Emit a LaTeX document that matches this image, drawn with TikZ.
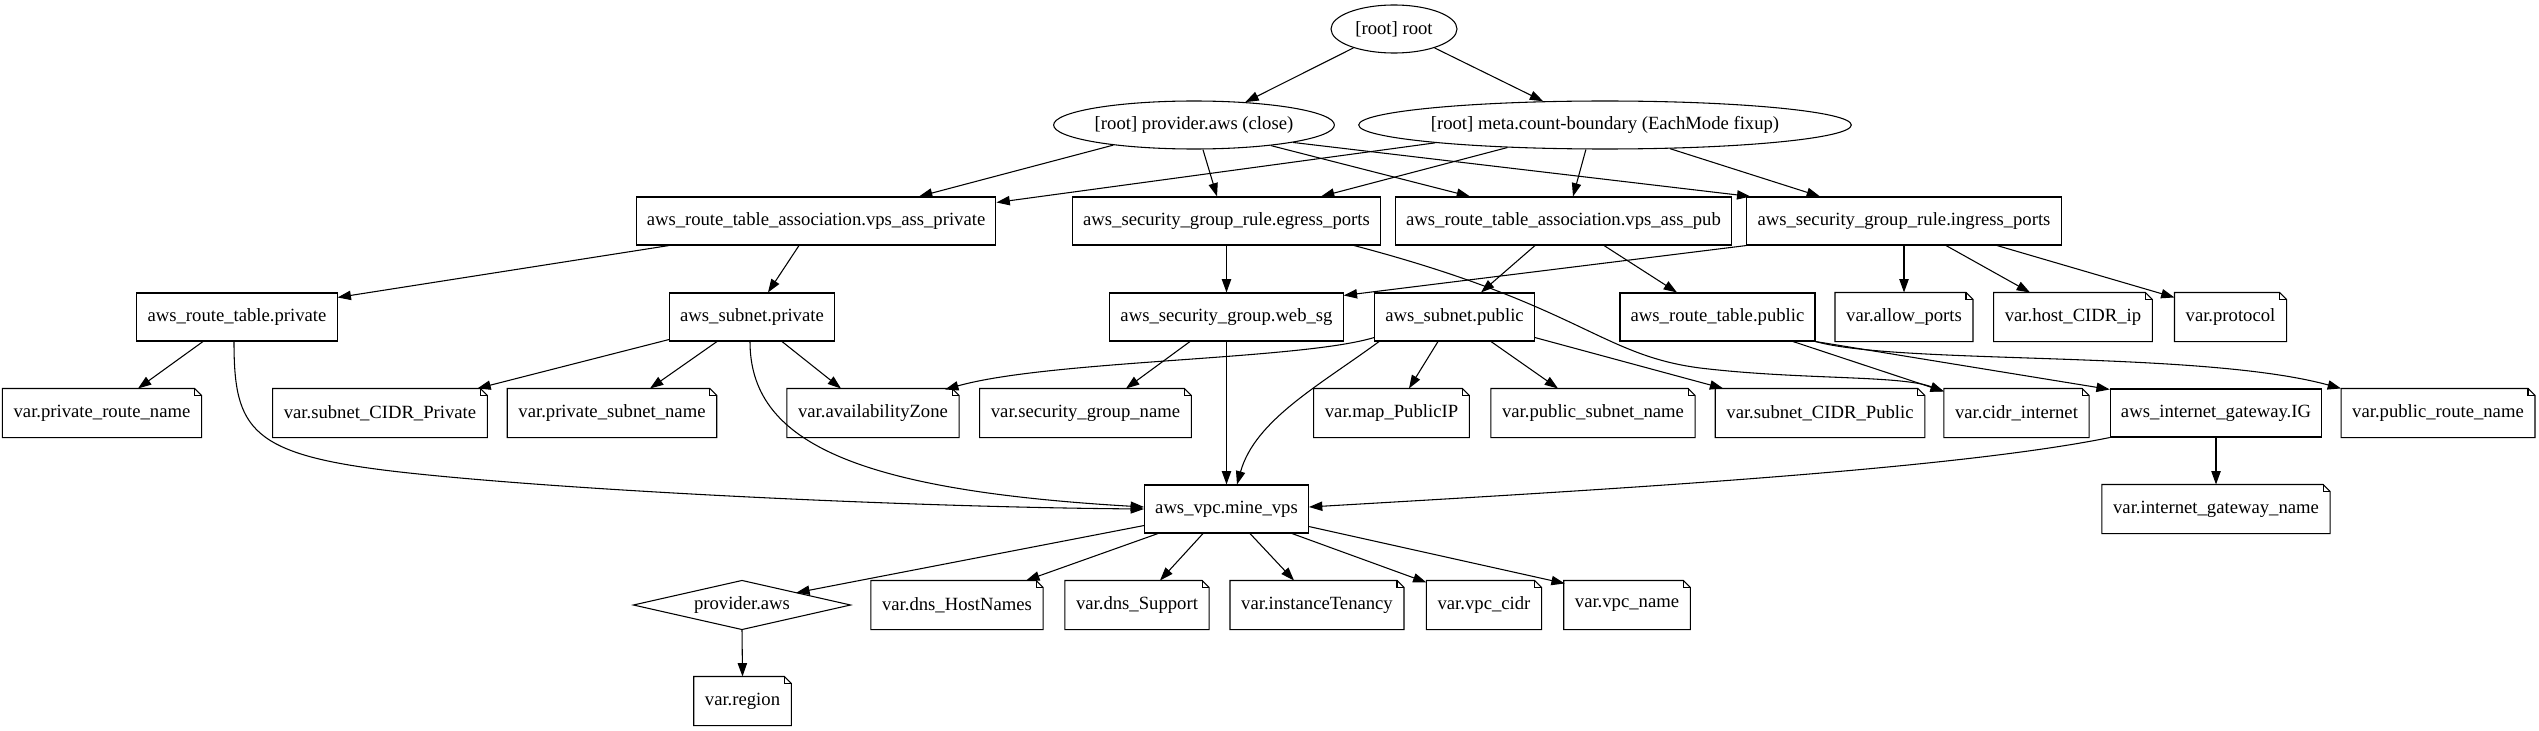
\documentclass[tikz,border=0pt]{standalone}
\usepackage{fontspec}
\setmainfont{Liberation Serif}
\usetikzlibrary{shapes.geometric,arrows.meta,calc}

\begin{document}
\begin{tikzpicture}[x=0.75pt,y=-0.75pt,
  >={Triangle[length=10pt,width=7pt]},
  every node/.style={font=\fontsize{14pt}{16pt}\selectfont, line width=0.8pt},
  every path/.style={line width=0.8pt},
  rootnode/.style={ellipse, draw, inner sep=0pt, minimum height=36pt},
  resbox/.style={rectangle, draw, inner xsep=8pt, minimum height=36pt, minimum width=54pt},
  varnote/.style={rectangle, inner xsep=8pt, minimum height=36pt, minimum width=54pt},
  provnode/.style={rectangle, inner sep=0pt, minimum width=162pt, minimum height=36pt}]
\useasboundingbox (0,0) rectangle (2539,731);

% root level
\node[rootnode, minimum width=94.5pt] (root) at (1394,29) {[root] root};
\node[rootnode, minimum width=210pt] (provclose) at (1194,125) {[root] provider.aws (close)};
\node[rootnode, minimum width=367.5pt] (meta) at (1605,125) {[root] meta.count-boundary (EachMode fixup)};

% resources
\node[resbox] (rtaprivate) at (816,221) {aws\_route\_table\_association.vps\_ass\_private};
\node[resbox] (egress) at (1226.5,221) {aws\_security\_group\_rule.egress\_ports};
\node[resbox] (rtapub) at (1563.5,221) {aws\_route\_table\_association.vps\_ass\_pub};
\node[resbox] (ingress) at (1904,221) {aws\_security\_group\_rule.ingress\_ports};

\node[resbox] (rtprivate) at (237,317) {aws\_route\_table.private};
\node[resbox] (subprivate) at (752,317) {aws\_subnet.private};
\node[resbox] (websg) at (1226.5,317) {aws\_security\_group.web\_sg};
\node[resbox] (subpublic) at (1454.5,317) {aws\_subnet.public};
\node[resbox] (rtpublic) at (1717.5,317) {aws\_route\_table.public};
\node[varnote] (allowports) at (1904,317) {var.allow\_ports};
\node[varnote] (hostcidr) at (2073,317) {var.host\_CIDR\_ip};
\node[varnote] (protocol) at (2230.5,317) {var.protocol};

\node[varnote] (privroutename) at (102,413) {var.private\_route\_name};
\node[varnote] (cidrprivate) at (380,413) {var.subnet\_CIDR\_Private};
\node[varnote] (privsubname) at (612,413) {var.private\_subnet\_name};
\node[varnote] (azone) at (873,413) {var.availabilityZone};
\node[varnote] (sgname) at (1085.5,413) {var.security\_group\_name};
\node[varnote] (mappublicip) at (1391.5,413) {var.map\_PublicIP};
\node[varnote] (pubsubname) at (1593,413) {var.public\_subnet\_name};
\node[varnote] (cidrpublic) at (1820,413) {var.subnet\_CIDR\_Public};
\node[varnote] (cidrinternet) at (2016.5,413) {var.cidr\_internet};
\node[resbox] (igw) at (2216,413) {aws\_internet\_gateway.IG};
\node[varnote] (pubroutename) at (2438,413) {var.public\_route\_name};

\node[resbox] (minevps) at (1226.5,509) {aws\_vpc.mine\_vps};
\node[varnote] (igwname) at (2216,509) {var.internet\_gateway\_name};

\node[provnode] (provaws) at (742,605) {provider.aws};
\node[varnote] (dnshost) at (957,605) {var.dns\_HostNames};
\node[varnote] (dnssupport) at (1137,605) {var.dns\_Support};
\node[varnote] (tenancy) at (1317,605) {var.instanceTenancy};
\node[varnote] (vpccidr) at (1484,605) {var.vpc\_cidr};
\node[varnote] (vpcname) at (1627,605) {var.vpc\_name};
\node[varnote] (region) at (742.5,701) {var.region};

% provider diamond
\draw (provaws.north) -- (provaws.east) -- (provaws.south) -- (provaws.west) -- cycle;

% note outlines with folded corner
\foreach \n in {allowports,hostcidr,protocol,privroutename,cidrprivate,privsubname,
                azone,sgname,mappublicip,pubsubname,cidrpublic,cidrinternet,
                pubroutename,igwname,dnshost,dnssupport,tenancy,vpccidr,vpcname,region}
	{\draw (\n.south west) -- (\n.south east) -- ($(\n.north east)+(0,7)$)
	   -- ($(\n.north east)+(-7,0)$) -- (\n.north west) -- cycle;
	 \draw ($(\n.north east)+(-7,0)$) -- ($(\n.north east)+(-7,7)$) -- ($(\n.north east)+(0,7)$);};

% edges from the root level
\draw[->] (root.205) -- (provclose.24);
\draw[->] (root.335) -- (meta.159);
\draw[->] (provclose.194) -- ($(rtaprivate.north)+(103,0)$);
\draw[->] (provclose.290) -- ($(egress.north)+(-9.5,0)$);
\draw[->] (provclose.345.6) -- ($(rtapub.north)+(-93.5,0)$);
\draw[->] (provclose.350.7) -- ($(ingress.north west)+(4,0)$);
\draw[->] (meta.186.7) -- ($(rtaprivate.north east)+(0,6)$);
\draw[->] (meta.193.2) -- ($(egress.north)+(94.5,0)$);
\draw[->] (meta.232.8) -- ($(rtapub.north)+(9.5,0)$);
\draw[->] (meta.340) -- ($(ingress.north)+(-84,0)$);

% second row
\draw[->] ($(rtaprivate.south)+(-147,0)$) -- ($(rtprivate.north east)+(0,5)$);
\draw[->] ($(rtaprivate.south)+(-17,0)$) -- ($(subprivate.north)+(16,0)$);
\draw[->] (egress.south) -- (websg.north);
\draw[->] ($(egress.south)+(127.5,0)$) .. controls (1580,305) and (1600,355) .. (1700,368)
   .. controls (1800,380) and (1900,375) .. ($(cidrinternet.north west)+(0,3)$);
\draw[->] ($(rtapub.south)+(-28.5,0)$) -- ($(subpublic.north)+(26.5,0)$);
\draw[->] ($(rtapub.south)+(40.5,0)$) -- ($(rtpublic.north)+(-40.5,0)$);
\draw[->] (ingress.south west) -- ($(websg.north east)+(0,3)$);
\draw[->] (ingress.south) -- (allowports.north);
\draw[->] ($(ingress.south)+(42,0)$) -- ($(hostcidr.north)+(-43,0)$);
\draw[->] ($(ingress.south)+(93,0)$) -- ($(protocol.north west)+(0,5)$);

% third row
\draw[->] ($(rtprivate.south)+(-34,0)$) -- ($(privroutename.north)+(36,0)$);
\draw[->] ($(rtprivate.south)+(-3,0)$) .. controls (234,430) and (250,455) .. (400,472)
   .. controls (560,490) and (900,507) .. (minevps.west);
\draw[->] ($(subprivate.south west)+(0,-2)$) -- ($(cidrprivate.north east)+(-10,0)$);
\draw[->] ($(subprivate.south)+(-35,0)$) -- ($(privsubname.north)+(38,0)$);
\draw[->] ($(subprivate.south)+(30,0)$) -- ($(azone.north)+(-32,0)$);
\draw[->] ($(subprivate.south)+(-2,0)$) .. controls (750,440) and (850,490) .. ($(minevps.west)+(0,-2)$);
\draw[->] ($(subpublic.south west)+(0,-4)$) .. controls (1300,360) and (1050,360) .. ($(azone.north east)+(-14,1)$);
\draw[->] ($(subpublic.south west)+(5,0)$) .. controls (1320,385) and (1255,420) .. ($(minevps.north)+(10.5,0)$);
\draw[->] ($(subpublic.south)+(-16.5,0)$) -- ($(mappublicip.north)+(17.5,0)$);
\draw[->] ($(subpublic.south)+(36.5,0)$) -- ($(pubsubname.north)+(-35,0)$);
\draw[->] ($(subpublic.south east)+(0,-4)$) -- ($(cidrpublic.north west)+(8,0)$);
\draw[->] ($(websg.south)+(-36.5,0)$) -- ($(sgname.north)+(40.5,0)$);
\draw[->] (websg.south) -- (minevps.north);
\draw[->] ($(rtpublic.south)+(75.5,0)$) -- ($(cidrinternet.north west)+(0,3)$);
\draw[->] (rtpublic.south east) -- ($(igw.north west)+(0,1)$);
\draw[->] (rtpublic.south east) .. controls (1900,365) and (2200,350) .. (pubroutename.north west);

% fourth and fifth rows
\draw[->] (igw.south west) .. controls (1950,470) and (1600,490) .. ($(minevps.east)+(0,-2)$);
\draw[->] (igw.south) -- (igwname.north);
\draw[->] ($(minevps.south west)+(0,-8)$) -- ($(provaws.east)!0.5!(provaws.north)$);
\draw[->] ($(minevps.south)+(-68.5,0)$) -- ($(dnshost.north east)+(-17,0)$);
\draw[->] ($(minevps.south)+(-23.5,0)$) -- ($(dnssupport.north)+(23,0)$);
\draw[->] ($(minevps.south)+(23.5,0)$) -- ($(tenancy.north)+(-23,0)$);
\draw[->] ($(minevps.south)+(65.5,0)$) -- ($(vpccidr.north west)+(0,2)$);
\draw[->] ($(minevps.south east)+(0,-7)$) -- ($(vpcname.north west)+(1,3)$);
\draw[->] (provaws.south) -- (region.north);
\end{tikzpicture}
\end{document}
